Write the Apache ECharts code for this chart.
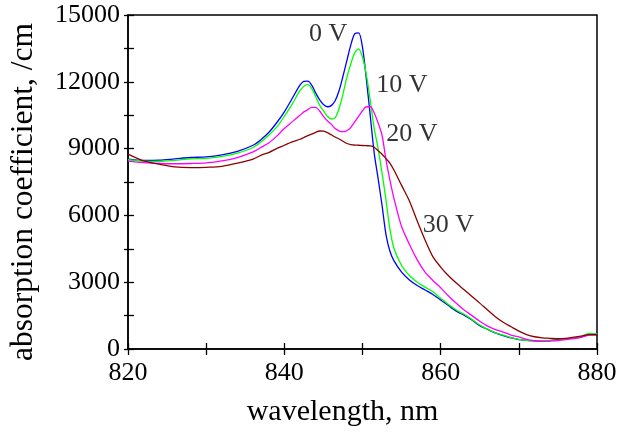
<!DOCTYPE html>
<html>
<head>
<meta charset="utf-8">
<script src="https://cdn.jsdelivr.net/npm/echarts@6/dist/echarts.min.js"></script>
<style>
html,body{margin:0;padding:0;background:#fff;}
#chart{width:621px;height:432px;}
</style>
</head>
<body>
<div id="chart"></div>
<script>
// wavelength grid (nm)
const wavelengths = [820,822,824,826,828,830,832,834,836,837,838,839,840,841,842,842.5,843,843.5,844,844.5,845,845.5,846,846.5,847,847.5,848,848.5,849,849.5,850,850.5,851,851.5,852,852.5,853,853.5,854,855,856,857,858,859,860,861,862,863,864,865,866,867,868,869,870,871,872,873,874,875,876,877,878,879,880];

// absorption coefficient (/cm) for each bias voltage
const v0 = [8530,8470,8480,8540,8600,8630,8720,8880,9150,9400,9720,10150,10650,11250,11850,12020,12030,11850,11500,11200,10980,10880,10930,11150,11600,12250,12950,13650,14150,14200,13550,12100,10450,8800,7650,6450,5150,4400,3980,3450,3100,2850,2650,2450,2200,1950,1700,1520,1300,1050,880,720,600,500,420,390,370,350,380,420,450,500,550,640,650];
const v10 = [8500,8440,8420,8470,8540,8560,8650,8800,9050,9300,9600,9950,10450,11000,11600,11800,11870,11700,11350,10950,10700,10450,10330,10380,10800,11450,12200,12800,13300,13480,13100,12300,11150,9900,9000,7900,6700,5400,4550,3750,3300,3000,2780,2570,2280,2000,1750,1560,1330,1080,890,730,620,510,430,390,350,360,390,400,450,480,560,700,680];
const v20 = [8440,8370,8330,8320,8330,8360,8450,8600,8850,9050,9250,9550,9900,10200,10500,10650,10750,10850,10850,10700,10450,10250,10100,9900,9800,9760,9800,9950,10200,10450,10700,10880,10880,10600,10150,9600,8500,7600,6800,5500,4700,4000,3450,3080,2750,2380,2050,1750,1500,1250,1030,870,760,620,540,430,370,340,360,380,420,470,520,640,660];
const v30 = [8750,8450,8300,8180,8150,8160,8200,8350,8530,8700,8820,9000,9150,9300,9420,9500,9580,9650,9730,9790,9780,9720,9620,9520,9430,9330,9230,9180,9160,9150,9140,9130,9120,9060,8900,8750,8550,8350,8050,7350,6650,5750,4900,4150,3680,3290,2960,2660,2360,2060,1750,1450,1200,1000,800,650,550,500,480,460,480,530,580,650,640];

const seriesNames = ["0 V","10 V","20 V","30 V"];
const seriesColors = ["#0000FF","#00FF00","#FF00FF","#8B0000"];

// annotation label positions (data coordinates)
const annoText = ["0 V","10 V","20 V","30 V"];
const annoX = [845.6, 855.05, 856.33, 861.0];
const annoY = [14150, 11830, 9642, 5580];

const FONT = "Liberation Serif";
const allValues = [v0, v10, v20, v30];

const lineSeries = allValues.map((vals, i) => ({
  name: seriesNames[i],
  type: 'line',
  xAxisIndex: 0,
  yAxisIndex: 0,
  data: wavelengths.map((w, j) => [w, vals[j]]),
  showSymbol: false,
  smooth: 0.3,
  lineStyle: { color: seriesColors[i], width: 1.3 },
  itemStyle: { color: seriesColors[i] },
  animation: false,
  z: 2 + i
}));

const annoSeries = {
  type: 'scatter',
  xAxisIndex: 0,
  yAxisIndex: 0,
  symbolSize: 0,
  data: annoText.map((t, i) => ({ name: t, value: [annoX[i], annoY[i]] })),
  label: {
    show: true,
    position: 'inside',
    formatter: p => p.name,
    fontFamily: FONT,
    fontSize: 26,
    color: '#000'
  },
  animation: false,
  z: 10
};

const chart = echarts.init(document.getElementById('chart'), null, { renderer: 'canvas' });
const xBase = { type: 'value', min: 820, max: 880, interval: 10, splitLine: { show: false } };
const yBase = { type: 'value', min: 0, max: 15000, interval: 1500, splitLine: { show: false } };

chart.setOption({
  backgroundColor: '#fff',
  animation: false,
  grid: { left: 128, top: 15, right: 24, bottom: 81, show: true, borderColor: '#000', borderWidth: 1.5, backgroundColor: 'transparent' },
  xAxis: [
    Object.assign({}, xBase, {
      position: 'bottom',
      axisLine: { onZero: false, lineStyle: { color: '#000', width: 1.5 } },
      axisTick: { inside: false, length: 6, lineStyle: { color: '#000', width: 1.3 } },
      axisLabel: {
        formatter: v => ((v - 820) % 20 === 0 ? String(v) : ''),
        fontFamily: FONT, fontSize: 26, color: '#000', margin: 11
      },
      name: 'wavelength, nm',
      nameLocation: 'middle',
      nameGap: 48,
      nameTextStyle: { fontFamily: FONT, fontSize: 30, color: '#000', padding: [0, 40, 0, 0] }
    }),
    Object.assign({}, xBase, {
      position: 'bottom',
      axisLine: { show: false, onZero: false },
      axisTick: { inside: true, length: 6, lineStyle: { color: '#000', width: 1.3 } },
      axisLabel: { show: false }
    })
  ],
  yAxis: [
    Object.assign({}, yBase, {
      position: 'left',
      axisLine: { onZero: false, lineStyle: { color: '#000', width: 1.5 } },
      axisTick: { inside: false, length: 4, lineStyle: { color: '#000', width: 1.3 } },
      axisLabel: {
        formatter: v => (v % 3000 === 0 ? String(v) : ''),
        fontFamily: FONT, fontSize: 26, color: '#000', margin: 8
      },
      name: 'absorption coefficient, /cm',
      nameLocation: 'middle',
      nameRotate: 90,
      nameGap: 88,
      nameTextStyle: { fontFamily: FONT, fontSize: 31.5, color: '#000', padding: [0, 20, 0, 0] }
    }),
    Object.assign({}, yBase, {
      position: 'left',
      axisLine: { show: false, onZero: false },
      axisTick: { inside: true, length: 6, lineStyle: { color: '#000', width: 1.3 } },
      axisLabel: { show: false }
    })
  ],
  series: lineSeries.concat([annoSeries])
});
</script>
</body>
</html>
